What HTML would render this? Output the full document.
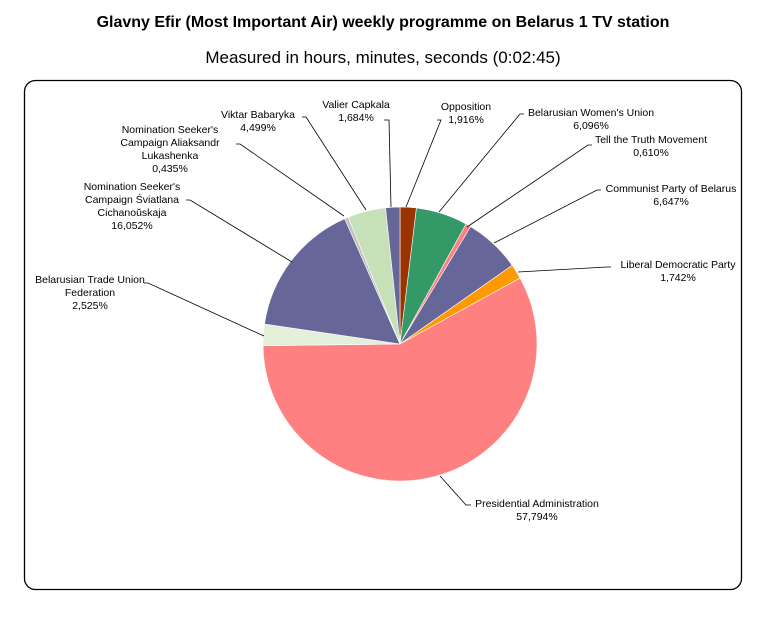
<!DOCTYPE html>
<html><head><meta charset="utf-8"><style>
body{margin:0;background:#fff;width:766px;height:622px;overflow:hidden}
svg{display:block}
.t{font-family:"Liberation Sans",Arial,sans-serif;font-size:10.5px;fill:#000}
</style></head><body>
<svg id="s" width="766" height="622" xmlns="http://www.w3.org/2000/svg">
<text x="383" y="27" text-anchor="middle" style="font-family:'Liberation Sans',sans-serif;font-weight:bold;font-size:16px">Glavny Efir (Most Important Air) weekly programme on Belarus 1 TV station</text>
<text x="383" y="63" text-anchor="middle" style="font-family:'Liberation Sans',sans-serif;font-size:17px">Measured in hours, minutes, seconds (0:02:45)</text>
<rect x="24.5" y="80.5" width="717" height="509" rx="11" fill="none" stroke="#000" stroke-width="1.3"/>
<g id="pie"></g>
<g stroke="#000" stroke-width="0.8" fill="none">
<polyline points="236,144 240,144 344,216"/>
<polyline points="302,117 306,117 366,210"/>
<polyline points="384,120 389,120 391,207"/>
<polyline points="437,120 441,120 406,207"/>
<polyline points="524,114 520,114 439,212"/>
<polyline points="592,145 588,145 467,227"/>
<polyline points="601,190 597,190 494,243"/>
<polyline points="611,267 607,267 518,272"/>
<polyline points="471,505 466,505 440,476"/>
<polyline points="144,283 148,283 264,336"/>
<polyline points="186,200 190,200 292,262"/>
</g>
<g class="t" text-anchor="middle">
<text x="170" y="133">Nomination Seeker's</text><text x="170" y="146">Campaign Aliaksandr</text><text x="170" y="159">Lukashenka</text><text x="170" y="172">0,435%</text>
<text x="258" y="118">Viktar Babaryka</text><text x="258" y="131">4,499%</text>
<text x="356" y="108">Valier Capkala</text><text x="356" y="121">1,684%</text>
<text x="466" y="110">Opposition</text><text x="466" y="123">1,916%</text>
<text x="591" y="116">Belarusian Women's Union</text><text x="591" y="129">6,096%</text>
<text x="651" y="143">Tell the Truth Movement</text><text x="651" y="156">0,610%</text>
<text x="671" y="192">Communist Party of Belarus</text><text x="671" y="205">6,647%</text>
<text x="678" y="268">Liberal Democratic Party</text><text x="678" y="281">1,742%</text>
<text x="537" y="507">Presidential Administration</text><text x="537" y="520">57,794%</text>
<text x="90" y="283">Belarusian Trade Union</text><text x="90" y="296">Federation</text><text x="90" y="309">2,525%</text>
<text x="132" y="190">Nomination Seeker's</text><text x="132" y="203">Campaign Śviatlana</text><text x="132" y="216">Cichanoŭskaja</text><text x="132" y="229">16,052%</text>
</g>
</svg>
<script>
var d=[[1.916,"#993300"],[6.096,"#339966"],[0.61,"#ff8080"],[6.647,"#666699"],[1.742,"#ff9900"],[57.794,"#ff8080"],[2.525,"#e3efd9"],[16.052,"#666699"],[0.435,"#c0c0c0"],[4.499,"#c6e0b8"],[1.684,"#666699"]];
var cx=400,cy=344,r=137,a=0,s="";
d.forEach(function(v){var a2=a+v[0]*3.6;var p=function(t){t=t*Math.PI/180;return (cx+r*Math.sin(t)).toFixed(2)+","+(cy-r*Math.cos(t)).toFixed(2)};
s+='<path d="M'+cx+','+cy+' L'+p(a)+' A'+r+','+r+' 0 '+(a2-a>180?1:0)+' 1 '+p(a2)+' Z" fill="'+v[1]+'" stroke="#fff" stroke-width="0.6"/>';a=a2;});
document.getElementById("pie").innerHTML=s;
</script>
</body></html>
